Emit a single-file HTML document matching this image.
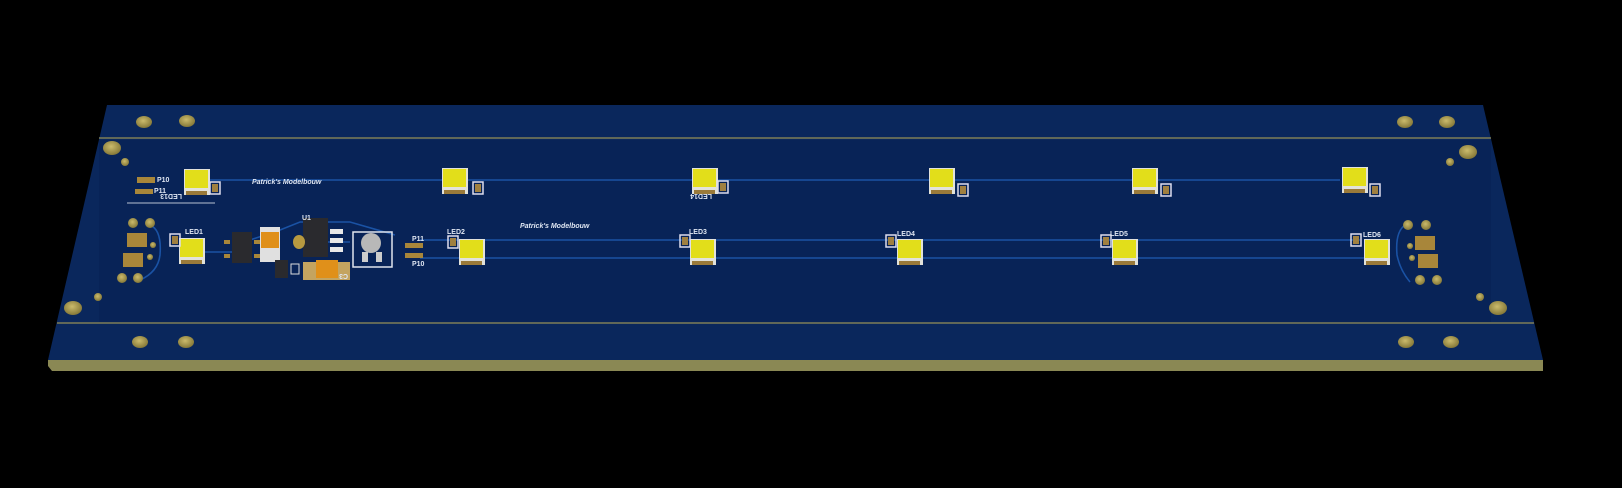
<!DOCTYPE html>
<html><head><meta charset="utf-8"><style>
html,body{margin:0;padding:0;background:#000;}
svg{display:block}
text{font-family:"Liberation Sans",sans-serif;font-weight:bold;fill:#dfe6f2;}
</style></head><body>
<svg width="1622" height="488" viewBox="0 0 1622 488" xmlns="http://www.w3.org/2000/svg">
<defs>
<g id="led">
  <rect x="-13" y="-13" width="26" height="26" fill="#e2e2da"/>
  <rect x="-12" y="-12" width="23" height="18" fill="#e2de1a"/>
  <rect x="-11" y="9" width="21" height="4" fill="#9a7a3a"/>
</g>
<g id="res">
  <rect x="-5" y="-6" width="10" height="12" fill="none" stroke="#dde" stroke-width="1.5"/>
  <rect x="-3" y="-4" width="6" height="8" fill="#a08040"/>
</g>
<radialGradient id="hole" cx="0.45" cy="0.4" r="0.6">
  <stop offset="0" stop-color="#cbbb6c"/><stop offset="1" stop-color="#857838"/>
</radialGradient>
</defs>
<rect width="1622" height="488" fill="#000"/>
<polygon points="48,360 1543,360 1543,371 52,371 48,366" fill="#8a8854"/>
<polygon points="107,105 1483,105 1543,360 48,360" fill="#0a275c"/>
<rect x="99" y="140" width="1392" height="182" fill="#061e4c" opacity="0.35"/>
<line x1="99" y1="138" x2="1491" y2="138" stroke="#7e7e56" stroke-width="1.5"/>
<line x1="57" y1="323" x2="1534" y2="323" stroke="#7e7e56" stroke-width="1.5"/>
<g stroke="#1a52a4" stroke-width="1.6" fill="none">
<line x1="210" y1="180" x2="1340" y2="180"/>
<line x1="420" y1="240" x2="1360" y2="240"/>
<line x1="420" y1="258" x2="1365" y2="258"/>
<path d="M150,225 Q162,230 160,255 Q158,272 140,280"/>
<path d="M205,252 L240,252 M300,242 L350,242 M250,240 L280,230 L300,222 L350,222 L395,235"/>
<path d="M1405,225 Q1395,232 1397,255 Q1400,270 1410,282"/>
</g>
<g fill="url(#hole)">
<ellipse cx="144" cy="122" rx="8" ry="6"/><ellipse cx="187" cy="121" rx="8" ry="6"/>
<ellipse cx="112" cy="148" rx="9" ry="7"/><circle cx="125" cy="162" r="4"/>
<ellipse cx="73" cy="308" rx="9" ry="7"/><circle cx="98" cy="297" r="4"/>
<ellipse cx="140" cy="342" rx="8" ry="6"/><ellipse cx="186" cy="342" rx="8" ry="6"/>
<ellipse cx="1405" cy="122" rx="8" ry="6"/><ellipse cx="1447" cy="122" rx="8" ry="6"/>
<ellipse cx="1468" cy="152" rx="9" ry="7"/><circle cx="1450" cy="162" r="4"/>
<ellipse cx="1498" cy="308" rx="9" ry="7"/><circle cx="1480" cy="297" r="4"/>
<ellipse cx="1406" cy="342" rx="8" ry="6"/><ellipse cx="1451" cy="342" rx="8" ry="6"/>
<circle cx="133" cy="223" r="5"/><circle cx="150" cy="223" r="5"/>
<circle cx="122" cy="278" r="5"/><circle cx="138" cy="278" r="5"/>
<circle cx="153" cy="245" r="3"/><circle cx="150" cy="257" r="3"/>
<circle cx="1408" cy="225" r="5"/><circle cx="1426" cy="225" r="5"/>
<circle cx="1420" cy="280" r="5"/><circle cx="1437" cy="280" r="5"/>
<circle cx="1410" cy="246" r="3"/><circle cx="1412" cy="258" r="3"/>
</g>
<g fill="#a8863a">
<rect x="127" y="233" width="20" height="14"/><rect x="123" y="253" width="20" height="14"/>
<rect x="1415" y="236" width="20" height="14"/><rect x="1418" y="254" width="20" height="14"/>
<rect x="137" y="177" width="18" height="6"/><rect x="135" y="189" width="18" height="5"/>
<rect x="405" y="243" width="18" height="5"/><rect x="405" y="253" width="18" height="5"/>
</g>
<line x1="127" y1="203" x2="215" y2="203" stroke="#b8c0d0" stroke-width="1"/>
<use href="#led" x="197" y="182"/><use href="#res" x="215" y="188"/>
<use href="#led" x="455" y="181"/><use href="#res" x="478" y="188"/>
<use href="#led" x="705" y="181"/><use href="#res" x="723" y="187"/>
<use href="#led" x="942" y="181"/><use href="#res" x="963" y="190"/>
<use href="#led" x="1145" y="181"/><use href="#res" x="1166" y="190"/>
<use href="#led" x="1355" y="180"/><use href="#res" x="1375" y="190"/>
<use href="#led" x="192" y="251"/><use href="#res" x="175" y="240"/>
<use href="#led" x="472" y="252"/><use href="#res" x="453" y="242"/>
<use href="#led" x="703" y="252"/><use href="#res" x="685" y="241"/>
<use href="#led" x="910" y="252"/><use href="#res" x="891" y="241"/>
<use href="#led" x="1125" y="252"/><use href="#res" x="1106" y="241"/>
<use href="#led" x="1377" y="252"/><use href="#res" x="1356" y="240"/>
<rect x="232" y="232" width="20" height="31" fill="#2a2a2e"/>
<g fill="#a8863a"><rect x="224" y="240" width="6" height="4"/><rect x="254" y="240" width="6" height="4"/><rect x="224" y="254" width="6" height="4"/><rect x="254" y="254" width="6" height="4"/></g>
<rect x="260" y="227" width="20" height="35" fill="#e0e0e0"/><rect x="261" y="232" width="18" height="16" fill="#e0901a"/>
<rect x="303" y="218" width="25" height="39" fill="#2a2a2e"/>
<g fill="#e8e8e8"><rect x="330" y="229" width="13" height="5"/><rect x="330" y="238" width="13" height="5"/><rect x="330" y="247" width="13" height="5"/></g>
<ellipse cx="299" cy="242" rx="6" ry="7" fill="#b89a40"/>
<rect x="353" y="232" width="39" height="35" fill="none" stroke="#e0e4ee" stroke-width="1.5"/>
<circle cx="371" cy="243" r="10" fill="#b8b8b8"/><rect x="362" y="252" width="6" height="10" fill="#ccc"/><rect x="376" y="252" width="6" height="10" fill="#ccc"/>
<rect x="303" y="262" width="47" height="18" fill="#c4a460"/><rect x="316" y="260" width="22" height="18" fill="#e0901a"/>
<rect x="275" y="260" width="13" height="18" fill="#2a2a2e"/><rect x="291" y="264" width="8" height="10" fill="none" stroke="#ddd"/>
<g font-size="7">
<text x="157" y="182">P10</text><text x="154" y="193">P11</text><text x="148" y="200" transform="rotate(180 165 197)">LED13</text>
<text x="252" y="184" font-style="italic">Patrick's Modelbouw</text>
<text x="520" y="228" font-style="italic">Patrick's Modelbouw</text>
<text x="185" y="234">LED1</text><text x="447" y="234">LED2</text><text x="689" y="234">LED3</text>
<text x="897" y="236">LED4</text><text x="1110" y="236">LED5</text><text x="1363" y="237">LED6</text>
<text x="302" y="220">U1</text>
<text x="412" y="241">P11</text><text x="412" y="266">P10</text>
<text x="332" y="270" transform="rotate(180 340 272)">C3</text>
<text x="690" y="200" transform="rotate(180 701 197)">LED14</text>
</g>
</svg>
</body></html>
